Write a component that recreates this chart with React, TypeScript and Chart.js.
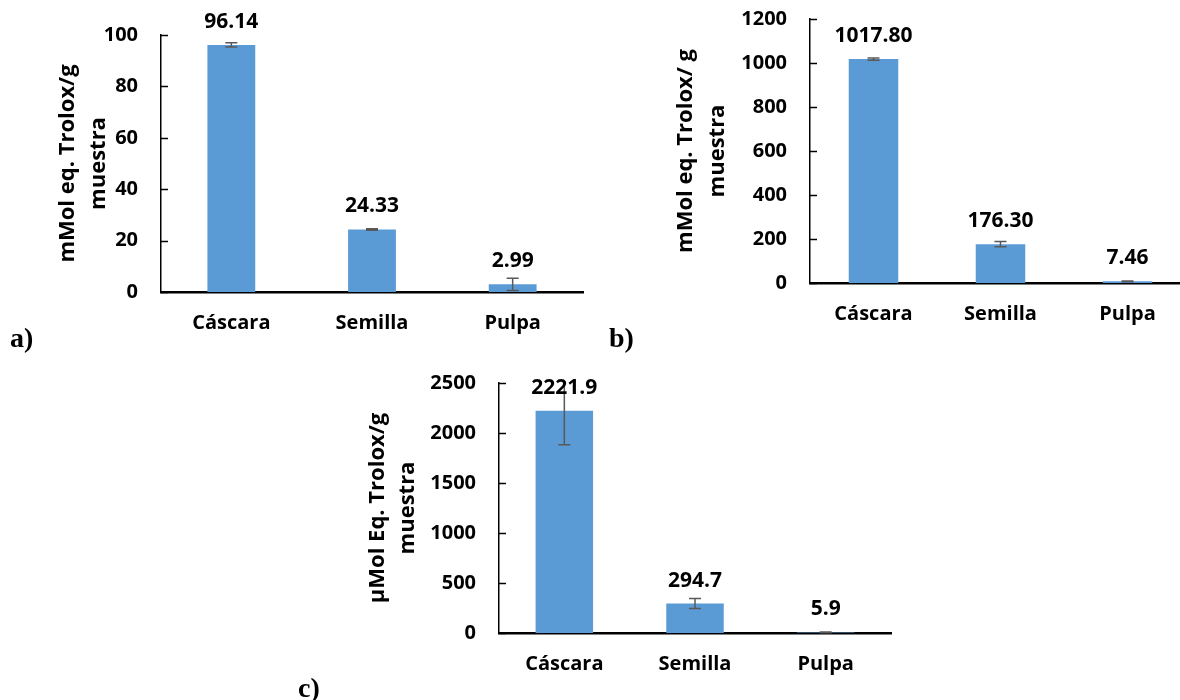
import React, { useEffect, useRef } from "react";
import { Chart, registerables } from "chart.js";

Chart.register(...registerables);

// ---------- data ----------
const categories = ["Cáscara", "Semilla", "Pulpa"];

const valuesA = [96.14, 24.33, 2.99];
const errorsA = [0.8, 0.3, 2.4];
const labelsA = ["96.14", "24.33", "2.99"];
const ticksA = [0, 20, 40, 60, 80, 100];
const titleA = ["mMol eq. Trolox/g", "muestra"];

const valuesB = [1017.8, 176.3, 7.46];
const errorsB = [5, 12, 2];
const labelsB = ["1017.80", "176.30", "7.46"];
const ticksB = [0, 200, 400, 600, 800, 1000, 1200];
const titleB = ["mMol eq. Trolox/ g", "muestra"];

const valuesC = [2221.9, 294.7, 5.9];
const errorsC = [340, 50, 3];
const labelsC = ["2221.9", "294.7", "5.9"];
const ticksC = [0, 500, 1000, 1500, 2000, 2500];
const titleC = ["µMol Eq. Trolox/g", "muestra"];

const panelLetters = ["a)", "b)", "c)"];

// ---------- layout (page coordinates) ----------
type Panel = {
  values: number[];
  errors: number[];
  labels: string[];
  ticks: number[];
  title: string[];
  left: number;
  width: number;
  axisX: number;
  plotRight: number;
  plotTop: number;
  plotBottom: number;
  barPct: number;
  titleX: number[];
};

const panels: Panel[] = [
  {
    values: valuesA, errors: errorsA, labels: labelsA, ticks: ticksA, title: titleA,
    left: 0, width: 600,
    axisX: 161, plotRight: 583, plotTop: 35, plotBottom: 292, barPct: 0.34,
    titleX: [68, 99],
  },
  {
    values: valuesB, errors: errorsB, labels: labelsB, ticks: ticksB, title: titleB,
    left: 600, width: 600,
    axisX: 810, plotRight: 1191, plotTop: 19, plotBottom: 283, barPct: 0.39,
    titleX: [686, 718],
  },
  {
    values: valuesC, errors: errorsC, labels: labelsC, ticks: ticksC, title: titleC,
    left: 280, width: 640,
    axisX: 499, plotRight: 891, plotTop: 383, plotBottom: 633, barPct: 0.44,
    titleX: [378, 408],
  },
];

const TOP_MARGIN = 40; // canvas space above the plot area
const BOTTOM_SPACE = 60; // canvas space below the plot area (category labels)

const letterPos = [
  { x: 10, y: 324 },
  { x: 609, y: 324 },
  { x: 298, y: 674 },
];

const FONT = "'Open Sans', 'Noto Sans', sans-serif";
const BAR = "#5B9BD5";
const ERR = "#595959";

function makeChart(canvas: HTMLCanvasElement, p: Panel) {
  const canvasTop = p.plotTop - TOP_MARGIN;
  const height = p.plotBottom - canvasTop + BOTTOM_SPACE;
  const axis = p.axisX - p.left;
  const right = p.plotRight - p.left;
  const maxV = p.ticks[p.ticks.length - 1];

  const overlay = {
    id: "overlay",
    afterDatasetsDraw(chart: any) {
      const ctx = chart.ctx as CanvasRenderingContext2D;
      const ys = chart.scales.y;
      const area = chart.chartArea;
      ctx.save();
      // inside tick marks
      ctx.strokeStyle = "#000";
      ctx.lineWidth = 1.5;
      ys.ticks.forEach((t: any) => {
        const py = Math.round(ys.getPixelForValue(t.value)) + 0.5;
        ctx.beginPath();
        ctx.moveTo(area.left, py);
        ctx.lineTo(area.left + 7, py);
        ctx.stroke();
      });
      // error bars
      const meta = chart.getDatasetMeta(0);
      ctx.save();
      ctx.beginPath();
      ctx.rect(area.left, area.top - 1, area.right - area.left, area.bottom - area.top + 2);
      ctx.clip();
      ctx.strokeStyle = ERR;
      ctx.lineWidth = 1.5;
      meta.data.forEach((el: any, i: number) => {
        const v = p.values[i];
        const e = p.errors[i];
        const x = el.x;
        const yt = ys.getPixelForValue(v + e);
        const yb = ys.getPixelForValue(Math.max(0, v - e));
        ctx.beginPath();
        ctx.moveTo(x, yt);
        ctx.lineTo(x, yb);
        ctx.moveTo(x - 6, yt);
        ctx.lineTo(x + 6, yt);
        ctx.moveTo(x - 6, yb);
        ctx.lineTo(x + 6, yb);
        ctx.stroke();
      });
      ctx.restore();
      // data labels
      ctx.fillStyle = "#000";
      ctx.font = `bold 21px ${FONT}`;
      ctx.textAlign = "center";
      ctx.textBaseline = "alphabetic";
      meta.data.forEach((el: any, i: number) => {
        ctx.fillText(p.labels[i], el.x, el.y - 17);
      });
      // axis title (two lines, rotated)
      const cy = (area.top + area.bottom) / 2;
      ctx.font = `bold 22px ${FONT}`;
      ctx.textBaseline = "middle";
      p.title.forEach((line, k) => {
        ctx.save();
        ctx.translate(p.titleX[k] - p.left, cy);
        ctx.rotate(-Math.PI / 2);
        ctx.fillText(line, 0, 0);
        ctx.restore();
      });
      ctx.restore();
    },
  };

  return new Chart(canvas, {
    type: "bar",
    data: {
      labels: categories,
      datasets: [
        {
          data: p.values,
          backgroundColor: BAR,
          borderWidth: 0,
          barPercentage: p.barPct,
          categoryPercentage: 1,
        },
      ],
    },
    options: {
      responsive: false,
      animation: false,
      devicePixelRatio: 1,
      layout: { padding: { left: 0, top: TOP_MARGIN, right: p.width - right, bottom: 0 } },
      plugins: {
        legend: { display: false },
        tooltip: { enabled: false },
      },
      scales: {
        x: {
          grid: { display: false, drawTicks: false },
          border: { display: true, color: "#000", width: 2.5 },
          ticks: {
            color: "#000",
            font: { family: FONT, weight: "bold", size: 20 },
            padding: 19,
            maxRotation: 0,
          },
          afterFit: (s: any) => {
            s.height = BOTTOM_SPACE;
          },
        },
        y: {
          min: 0,
          max: maxV,
          grid: { display: false, drawTicks: false },
          border: { display: true, color: "#000", width: 1.5 },
          ticks: {
            color: "#000",
            font: { family: FONT, weight: "bold", size: 20 },
            padding: 23,
            callback: (v: any) => String(v),
          },
          afterBuildTicks: (s: any) => {
            s.ticks = p.ticks.map((v) => ({ value: v }));
          },
          afterFit: (s: any) => {
            s.width = axis;
          },
        },
      },
    },
    plugins: [overlay],
  } as any);
}

function ChartPanel({ p }: { p: Panel }) {
  const ref = useRef<HTMLCanvasElement | null>(null);
  const canvasTop = p.plotTop - TOP_MARGIN;
  const height = p.plotBottom - canvasTop + BOTTOM_SPACE;
  useEffect(() => {
    let chart: Chart | null = null;
    let cancelled = false;
    const fontsReady = (document as any).fonts
      ? Promise.all([
          (document as any).fonts.load(`bold 20px 'Open Sans'`),
          (document as any).fonts.load(`bold 22px 'Open Sans'`),
        ]).catch(() => null)
      : Promise.resolve(null);
    fontsReady.then(() => {
      if (cancelled || !ref.current) return;
      chart = makeChart(ref.current, p);
    });
    return () => {
      cancelled = true;
      if (chart) chart.destroy();
    };
  }, [p]);
  return (
    <canvas
      ref={ref}
      width={p.width}
      height={height}
      style={{
        position: "absolute",
        left: p.left,
        top: canvasTop,
        width: p.width,
        height,
      }}
    />
  );
}

export default function App() {
  return (
    <div
      style={{
        position: "fixed",
        left: 0,
        top: 0,
        width: 1180,
        height: 700,
        overflow: "hidden",
        background: "#fff",
      }}
    >
      {panels.map((p, i) => (
        <ChartPanel key={i} p={p} />
      ))}
      {panelLetters.map((t, i) => (
        <div
          key={t}
          style={{
            position: "absolute",
            left: letterPos[i].x,
            top: letterPos[i].y,
            fontFamily: "'Liberation Serif', 'Times New Roman', serif",
            fontWeight: "bold",
            fontSize: 28,
            lineHeight: "28px",
            color: "#000",
          }}
        >
          {t}
        </div>
      ))}
    </div>
  );
}
